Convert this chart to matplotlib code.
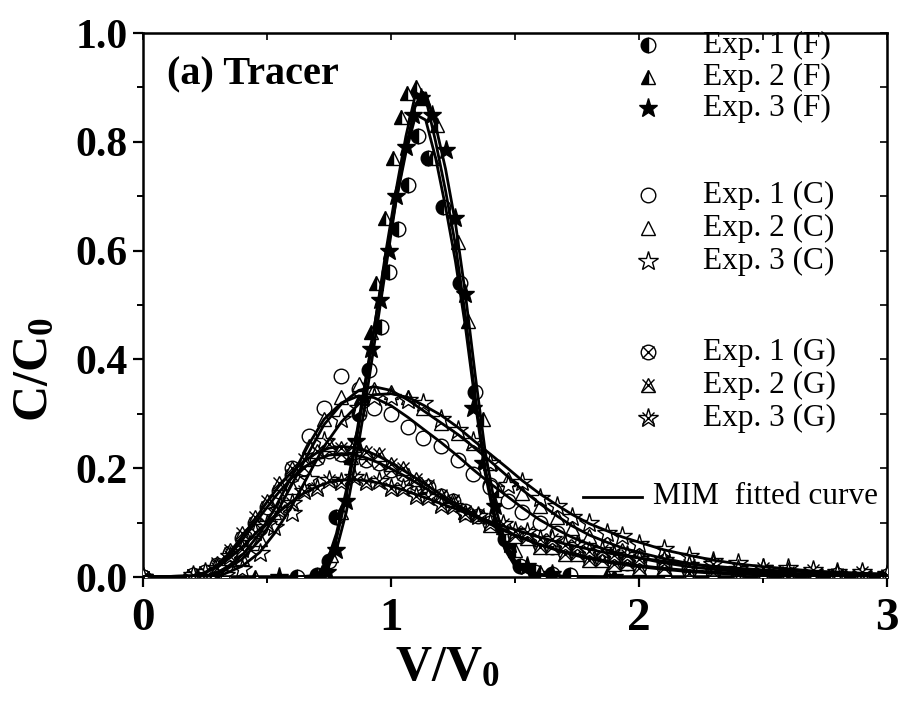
import matplotlib
matplotlib.use("Agg")
import matplotlib.pyplot as plt
from matplotlib.lines import Line2D

# ---------------- data ----------------
# F group (fitted-curve grid)
FX = [0.00, 0.30, 0.50, 0.62, 0.70, 0.74, 0.78, 0.82, 0.86, 0.90, 0.94, 0.98, 1.02, 1.06,
      1.10, 1.14, 1.18, 1.22, 1.26, 1.30, 1.34, 1.38, 1.42, 1.46, 1.50, 1.55, 1.60, 1.70,
      1.87, 2.10, 2.40, 2.80, 3.00]
F1_fit = [0, 0, 0, 0, 0.003, 0.025, 0.08, 0.16, 0.26, 0.37, 0.48, 0.59, 0.69, 0.78,
          0.85, 0.84, 0.77, 0.68, 0.58, 0.46, 0.32, 0.19, 0.10, 0.05, 0.02, 0.008, 0.003, 0.001,
          0, 0, 0, 0, 0]
F2_fit = [0, 0, 0, 0, 0.002, 0.02, 0.07, 0.15, 0.25, 0.36, 0.48, 0.60, 0.71, 0.81,
          0.89, 0.88, 0.80, 0.71, 0.61, 0.48, 0.33, 0.20, 0.11, 0.055, 0.025, 0.01, 0.004, 0.001,
          0, 0, 0, 0, 0]
F3_fit = [0, 0, 0, 0, 0.0, 0.012, 0.05, 0.12, 0.22, 0.33, 0.45, 0.57, 0.69, 0.79,
          0.87, 0.89, 0.83, 0.75, 0.65, 0.52, 0.37, 0.23, 0.13, 0.065, 0.03, 0.012, 0.005, 0.001,
          0, 0, 0, 0, 0]

F1_x = [0.00, 0.62, 0.70, 0.75, 0.78, 0.83, 0.87, 0.91, 0.96, 0.99, 1.03, 1.07, 1.11, 1.15,
        1.21, 1.28, 1.34, 1.40, 1.46, 1.52, 1.58, 1.65, 1.72, 2.10, 2.50]
F1_y = [0.0, 0.0, 0.003, 0.03, 0.11, 0.22, 0.30, 0.38, 0.46, 0.56, 0.64, 0.72, 0.81, 0.77,
        0.68, 0.54, 0.34, 0.17, 0.07, 0.02, 0.01, 0.005, 0.003, 0.001, 0.0]
F2_x = [0.00, 0.45, 0.72, 0.76, 0.80, 0.84, 0.88, 0.92, 0.94, 0.975, 1.01, 1.04, 1.065, 1.10,
        1.13, 1.165, 1.185, 1.27, 1.31, 1.37, 1.43, 1.50, 1.60, 1.87, 2.20]
F2_y = [0.0, 0.0, 0.01, 0.04, 0.12, 0.22, 0.33, 0.45, 0.54, 0.66, 0.77, 0.845, 0.89, 0.90,
        0.88, 0.77, 0.83, 0.615, 0.47, 0.29, 0.16, 0.05, 0.01, 0.003, 0.0]
F3_x = [0.00, 0.55, 0.74, 0.78, 0.82, 0.86, 0.89, 0.92, 0.955, 0.99, 1.02, 1.06, 1.09, 1.12,
        1.165, 1.22, 1.26, 1.30, 1.33, 1.37, 1.42, 1.48, 1.55, 1.65, 1.90]
F3_y = [0.0, 0.0, 0.01, 0.05, 0.14, 0.25, 0.33, 0.42, 0.51, 0.60, 0.70, 0.79, 0.85, 0.88,
        0.85, 0.785, 0.66, 0.52, 0.31, 0.21, 0.13, 0.06, 0.02, 0.005, 0.0]

# C group
CX = [0.00, 0.20, 0.27, 0.33, 0.40, 0.47, 0.53, 0.60, 0.67, 0.73, 0.80, 0.87, 0.93, 1.00,
      1.07, 1.13, 1.20, 1.27, 1.33, 1.40, 1.47, 1.53, 1.60, 1.67, 1.73, 1.80, 1.87, 1.93,
      2.00, 2.10, 2.20, 2.30, 2.40, 2.50, 2.60, 2.70, 2.80, 2.90, 3.00]
C1_fit = [0, 0, 0.004, 0.015, 0.04, 0.08, 0.125, 0.185, 0.245, 0.29, 0.32, 0.333, 0.33, 0.315,
          0.293, 0.272, 0.248, 0.222, 0.198, 0.172, 0.148, 0.127, 0.105, 0.087, 0.073, 0.06, 0.05, 0.042,
          0.035, 0.026, 0.019, 0.014, 0.010, 0.008, 0.006, 0.004, 0.003, 0.002, 0.002]
C2_fit = [0, 0, 0.003, 0.012, 0.033, 0.068, 0.11, 0.17, 0.23, 0.28, 0.318, 0.343, 0.35, 0.343,
          0.325, 0.306, 0.284, 0.262, 0.24, 0.213, 0.185, 0.16, 0.135, 0.112, 0.094, 0.077, 0.064, 0.054,
          0.045, 0.034, 0.025, 0.018, 0.013, 0.010, 0.007, 0.005, 0.004, 0.003, 0.002]
C3_fit = [0, 0, 0.001, 0.006, 0.02, 0.045, 0.08, 0.13, 0.19, 0.24, 0.285, 0.318, 0.335, 0.337,
          0.33, 0.316, 0.298, 0.275, 0.252, 0.226, 0.20, 0.177, 0.153, 0.132, 0.115, 0.098, 0.085, 0.074,
          0.064, 0.05, 0.04, 0.031, 0.024, 0.019, 0.015, 0.011, 0.009, 0.007, 0.005]
C1_pts = [0.0, 0.0, 0.005, 0.02, 0.05, 0.09, 0.14, 0.2, 0.26, 0.31, 0.37, 0.345, 0.31, 0.30,
          0.276, 0.255, 0.24, 0.215, 0.19, 0.165, 0.14, 0.12, 0.10, 0.08, 0.07, 0.055, 0.05, 0.04,
          0.032, 0.025, 0.02, 0.012, 0.01, 0.006, 0.007, 0.003, 0.004, 0.002, 0.001]
C2_pts = [0.0, 0.0, 0.004, 0.01, 0.035, 0.07, 0.12, 0.165, 0.24, 0.29, 0.33, 0.355, 0.345, 0.34,
          0.33, 0.31, 0.283, 0.265, 0.246, 0.21, 0.18, 0.155, 0.13, 0.11, 0.09, 0.075, 0.065, 0.05,
          0.045, 0.03, 0.027, 0.016, 0.015, 0.008, 0.009, 0.004, 0.005, 0.003, 0.002]
C3_pts = [0.0, 0.0, 0.0, 0.004, 0.015, 0.044, 0.092, 0.118, 0.18, 0.25, 0.29, 0.31, 0.33, 0.33,
          0.325, 0.32, 0.29, 0.27, 0.25, 0.21, 0.17, 0.175, 0.145, 0.13, 0.11, 0.10, 0.08, 0.075,
          0.06, 0.052, 0.038, 0.03, 0.025, 0.017, 0.016, 0.01, 0.01, 0.006, 0.006]

# G group
GX = [0.00, 0.20, 0.25, 0.30, 0.35, 0.40, 0.45, 0.50, 0.55, 0.60, 0.65, 0.70, 0.75, 0.80,
      0.85, 0.90, 0.95, 1.00, 1.05, 1.10, 1.15, 1.20, 1.25, 1.30, 1.35, 1.40, 1.45, 1.50,
      1.55, 1.60, 1.65, 1.70, 1.75, 1.80, 1.85, 1.90, 1.95, 2.00, 2.10, 2.20, 2.30, 2.40,
      2.50, 2.60, 2.70, 2.80, 2.90, 3.00]
G1_fit = [0, 0.002, 0.008, 0.02, 0.04, 0.068, 0.098, 0.128, 0.157, 0.182, 0.202, 0.216, 0.224, 0.227,
          0.225, 0.219, 0.21, 0.199, 0.187, 0.174, 0.16, 0.146, 0.133, 0.12, 0.108, 0.097, 0.086, 0.077,
          0.068, 0.06, 0.053, 0.046, 0.041, 0.036, 0.031, 0.027, 0.024, 0.021, 0.016, 0.012, 0.009, 0.007,
          0.005, 0.004, 0.003, 0.002, 0.002, 0.001]
G2_fit = [0, 0.002, 0.008, 0.022, 0.045, 0.075, 0.105, 0.138, 0.168, 0.193, 0.213, 0.228, 0.237, 0.24,
          0.238, 0.232, 0.222, 0.21, 0.196, 0.182, 0.167, 0.152, 0.138, 0.124, 0.111, 0.099, 0.088, 0.077,
          0.068, 0.059, 0.052, 0.045, 0.039, 0.034, 0.029, 0.025, 0.022, 0.019, 0.014, 0.010, 0.007, 0.005,
          0.004, 0.003, 0.002, 0.002, 0.001, 0.001]
G3_fit = [0, 0.002, 0.008, 0.018, 0.035, 0.055, 0.078, 0.1, 0.12, 0.139, 0.154, 0.166, 0.174, 0.178,
          0.179, 0.177, 0.173, 0.167, 0.16, 0.152, 0.144, 0.135, 0.127, 0.118, 0.11, 0.102, 0.094, 0.087,
          0.08, 0.073, 0.067, 0.061, 0.056, 0.051, 0.046, 0.042, 0.038, 0.035, 0.029, 0.024, 0.02, 0.016,
          0.013, 0.011, 0.009, 0.007, 0.006, 0.005]
G1_pts = [0.0, 0.003, 0.01, 0.022, 0.045, 0.072, 0.1, 0.128, 0.158, 0.188, 0.2, 0.218, 0.232, 0.226,
          0.23, 0.215, 0.21, 0.196, 0.19, 0.172, 0.165, 0.148, 0.14, 0.122, 0.113, 0.1, 0.092, 0.078,
          0.074, 0.06, 0.056, 0.046, 0.044, 0.036, 0.033, 0.028, 0.026, 0.02, 0.018, 0.013, 0.011, 0.008,
          0.009, 0.005, 0.006, 0.003, 0.004, 0.002]
G2_pts = [0.0, 0.004, 0.006, 0.025, 0.05, 0.08, 0.11, 0.14, 0.172, 0.2, 0.216, 0.232, 0.245, 0.238,
          0.242, 0.23, 0.226, 0.207, 0.2, 0.18, 0.17, 0.15, 0.142, 0.12, 0.115, 0.096, 0.092, 0.075,
          0.072, 0.056, 0.055, 0.043, 0.042, 0.032, 0.031, 0.023, 0.025, 0.017, 0.016, 0.008, 0.01, 0.004,
          0.008, 0.002, 0.006, 0.001, 0.004, 0.001]
G3_pts = [0.0, 0.004, 0.01, 0.016, 0.038, 0.052, 0.082, 0.098, 0.124, 0.136, 0.158, 0.163, 0.178, 0.175,
          0.183, 0.174, 0.176, 0.164, 0.163, 0.149, 0.147, 0.132, 0.13, 0.115, 0.113, 0.1, 0.097, 0.084,
          0.083, 0.07, 0.07, 0.058, 0.059, 0.048, 0.049, 0.04, 0.041, 0.033, 0.032, 0.022, 0.023, 0.014,
          0.016, 0.009, 0.013, 0.005, 0.009, 0.004]

legend_labels = ["Exp. 1 (F)", "Exp. 2 (F)", "Exp. 3 (F)",
                 "Exp. 1 (C)", "Exp. 2 (C)", "Exp. 3 (C)",
                 "Exp. 1 (G)", "Exp. 2 (G)", "Exp. 3 (G)"]
fit_label = "MIM  fitted curve"
x_ticks = [0, 1, 2, 3]
y_ticks = [0.0, 0.2, 0.4, 0.6, 0.8, 1.0]

# ---------------- style ----------------
plt.rcParams['font.family'] = ['Liberation Serif', 'DejaVu Serif']
plt.rcParams['mathtext.fontset'] = 'custom'
plt.rcParams['mathtext.rm'] = 'Liberation Serif'
plt.rcParams['mathtext.bf'] = 'Liberation Serif:bold'

fig = plt.figure(figsize=(8.98, 7.01), dpi=100)
ax = fig.add_axes([143/898, 1-577/701, 744/898, 544/701])

K = 'black'
MS = 10.5
MEW = 1.0
LW = 2.0

def mk(m, fill='none', fs='full', ms=MS):
    d = dict(marker=m, markersize=ms, markeredgecolor=K, markeredgewidth=MEW, linestyle='none')
    if fs == 'left':
        d.update(fillstyle='left', markerfacecolor=K, markerfacecoloralt='white')
    elif fill == 'full':
        d.update(markerfacecolor=K)
    else:
        d.update(markerfacecolor='white')
    return d

series = [
    (F1_x, F1_y, [mk('o', fs='left')]),
    (F2_x, F2_y, [mk('^', fs='left')]),
    (F3_x, F3_y, [mk('*', fill='full', ms=14)]),
    (CX, C1_pts, [mk('o')]),
    (CX, C2_pts, [mk('^')]),
    (CX, C3_pts, [mk('*', ms=15)]),
    (GX, G1_pts, [mk('o'), mk('x', ms=9)]),
    (GX, G2_pts, [mk('^'), mk('x', ms=9)]),
    (GX, G3_pts, [mk('*', ms=15), mk('x', ms=8)]),
]
for xs, ys, styles in series:
    for st in styles:
        ax.plot(xs, ys, zorder=3, **st)

for xs, ys in [(FX, F1_fit), (FX, F2_fit), (FX, F3_fit),
               (CX, C1_fit), (CX, C2_fit), (CX, C3_fit),
               (GX, G1_fit), (GX, G2_fit), (GX, G3_fit)]:
    ax.plot(xs, ys, color=K, lw=LW, zorder=4, solid_joinstyle='round')

# ---------------- axes ----------------
ax.set_xlim(0, 3)
ax.set_ylim(0, 1.0)
ax.set_xticks(x_ticks)
ax.set_xticks([0.5, 1.5, 2.5], minor=True)
ax.set_yticks(y_ticks)
ax.set_yticks([0.1, 0.3, 0.5, 0.7, 0.9], minor=True)
ax.set_xticklabels([str(t) for t in x_ticks])
ax.set_yticklabels(["%.1f" % t for t in y_ticks])
for sp in ax.spines.values():
    sp.set_linewidth(1.8)
ax.tick_params(which='major', direction='out', length=7, width=1.6,
               top=False, right=False)
ax.tick_params(which='minor', direction='out', length=4, width=1.4,
               top=False, right=False)
ax.tick_params(axis='x', which='major', labelsize=34, pad=8)
ax.tick_params(axis='y', which='major', labelsize=30, pad=4)
for lab in ax.get_xticklabels() + ax.get_yticklabels():
    lab.set_fontweight('bold')
# inward ticks on top/right
axt = ax.secondary_xaxis('top')
axt.set_xticks([0, 0.5, 1, 1.5, 2, 2.5, 3])
axt.tick_params(direction='in', length=5, width=1.2, labeltop=False)
axr = ax.secondary_yaxis('right')
axr.set_yticks([0.1 * i for i in range(11)])
axr.tick_params(direction='in', length=5, width=1.2, labelright=False)

ax.set_xlabel(r'$\mathbf{V/V_0}$', fontsize=36)
ax.xaxis.set_label_coords((447 - 143) / 744, (577 - 645) / 544)
ax.set_ylabel(r'$\mathbf{C/C_0}$', fontsize=36)
ax.yaxis.set_label_coords((58 - 143) / 744, (577 - 370) / 544)

ax.text((167 - 143) / 744, (577 - 75) / 544, '(a) Tracer', transform=ax.transAxes,
        fontsize=29, fontweight='bold', va='center', ha='left')

# ---------------- legend (manual) ----------------
rows_px = [45, 77, 108, 195, 228, 261, 352, 385, 418]
leg_styles = [s[2] for s in series]
for ypx, lab, styles in zip(rows_px, legend_labels, leg_styles):
    yf = (577 - ypx) / 544
    for st in styles:
        ax.add_line(Line2D([(648 - 143) / 744], [yf], transform=ax.transAxes, **st))
    ax.text((703 - 143) / 744, yf, lab, transform=ax.transAxes, fontsize=22.5,
            va='center', ha='left')
ymim = (577 - 497) / 544
ax.add_line(Line2D([(583 - 143) / 744, (642 - 143) / 744], [ymim, ymim],
                   transform=ax.transAxes, color=K, lw=LW))
ax.text((653 - 143) / 744, ymim, fit_label, transform=ax.transAxes, fontsize=22.5,
        va='center', ha='left')

fig.savefig('out.png', dpi=100)
